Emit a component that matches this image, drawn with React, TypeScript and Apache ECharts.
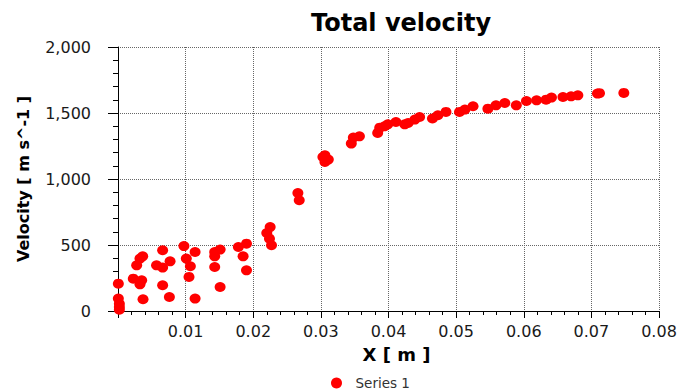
import React, { useEffect, useRef } from "react";
import * as echarts from "echarts";

const xValues: number[] = [
  0.00005, 0.00005, 0.0002, 0.0002, 0.0002,
  0.00226, 0.00276, 0.00325, 0.00365, 0.0035, 0.00325, 0.0037,
  0.0057, 0.0066, 0.0066, 0.0077, 0.0066, 0.0076,
  0.00975, 0.0114, 0.0101, 0.0107, 0.0105, 0.0114,
  0.0143, 0.0151, 0.0143, 0.0143, 0.0151,
  0.0178, 0.019, 0.0185, 0.019,
  0.0225, 0.022, 0.0224, 0.0227,
  0.0266, 0.0268,
  0.0303, 0.0306, 0.0311, 0.0306,
  0.0345, 0.0348, 0.0357,
  0.0384, 0.0387, 0.0394, 0.0399,
  0.0411, 0.0424, 0.0429, 0.0439, 0.0446,
  0.0465, 0.0473, 0.0485,
  0.0505, 0.0513, 0.0525,
  0.0547, 0.0559, 0.0572, 0.0589,
  0.0604, 0.0619, 0.0633, 0.0641, 0.0658, 0.067, 0.068,
  0.0709, 0.0712, 0.0748,
];

const velocity: number[] = [
  207, 94, 55, 30, 10,
  245, 346, 397, 414, 233, 202, 89,
  346, 329, 460, 376, 195, 106,
  492, 447, 397, 339, 258, 94,
  447, 465, 414, 333, 182,
  485, 510, 414, 308,
  636, 591, 548, 498,
  894, 839,
  1167, 1180, 1147, 1129,
  1268, 1314, 1323,
  1349, 1389, 1399, 1414,
  1432, 1414, 1424, 1450, 1470,
  1458, 1483, 1508,
  1508, 1526, 1551,
  1533, 1558, 1576, 1558,
  1591, 1596, 1601, 1617, 1621, 1626, 1634,
  1647, 1650, 1652,
];

const seriesName = "Series 1";
const chartTitle = "Total velocity";
const xAxisName = "X [ m ]";
const yAxisName = "Velocity [ m s^-1 ]";

const FONT = "DejaVu Sans";

export default function App() {
  const ref = useRef<HTMLDivElement>(null);

  useEffect(() => {
    if (!ref.current) return;
    const chart = echarts.init(ref.current, undefined, { renderer: "svg" });
    const data = xValues.map((x, i) => [x, velocity[i]]);
    chart.setOption({
      animation: false,
      backgroundColor: "#ffffff",
      title: {
        text: chartTitle,
        left: 306,
        top: 6,
        textStyle: {
          fontFamily: FONT,
          fontSize: 24,
          fontWeight: "bold",
          color: "#000000",
        },
      },
      legend: {
        data: [seriesName],
        left: 331,
        top: 376,
        padding: 0,
        icon: "circle",
        itemWidth: 28,
        itemHeight: 11,
        itemGap: 8,
        textStyle: { fontFamily: FONT, fontSize: 13.5, color: "#333333" },
      },
      grid: { left: 118, right: 23, top: 47, bottom: 79, containLabel: false },
      xAxis: {
        type: "value",
        min: 0,
        max: 0.08,
        interval: 0.01,
        offset: 7,
        name: xAxisName,
        nameLocation: "middle",
        nameGap: 27,
        nameTextStyle: {
          fontFamily: FONT,
          fontSize: 18,
          fontWeight: "bold",
          color: "#000000",
          padding: [0, 0, 0, 16],
        },
        axisLine: { show: true, lineStyle: { color: "#000000", width: 1 } },
        axisTick: { show: true, inside: false, length: 7, lineStyle: { color: "#000000" } },
        minorTick: { show: true, splitNumber: 5, length: 4, lineStyle: { color: "#000000" } },
        splitLine: { show: true, lineStyle: { color: "#666666", type: "dotted", width: 1 } },
        axisLabel: {
          fontFamily: FONT,
          fontSize: 16,
          color: "#1a1a1a",
          margin: 5,
          formatter: (v: number) => (v === 0 ? "" : v.toFixed(2)),
        },
      },
      yAxis: {
        type: "value",
        min: 0,
        max: 2000,
        interval: 500,
        offset: 8,
        name: yAxisName,
        nameLocation: "middle",
        nameRotate: 90,
        nameGap: 79,
        nameTextStyle: {
          fontFamily: FONT,
          fontSize: 16,
          fontWeight: "bold",
          color: "#000000",
        },
        axisLine: { show: true, lineStyle: { color: "#000000", width: 1 } },
        axisTick: { show: true, inside: false, length: 10, lineStyle: { color: "#000000" } },
        minorTick: { show: true, splitNumber: 5, length: 5, lineStyle: { color: "#000000" } },
        splitLine: { show: true, lineStyle: { color: "#666666", type: "dotted", width: 1 } },
        axisLabel: {
          fontFamily: FONT,
          fontSize: 16,
          color: "#1a1a1a",
          margin: 19,
          formatter: (v: number) => v.toLocaleString("en-US"),
        },
      },
      series: [
        {
          name: seriesName,
          type: "scatter",
          data,
          symbol: "circle",
          symbolSize: [11, 10],
          itemStyle: { color: "#ff0000", opacity: 1 },
        },
      ],
    });
    return () => chart.dispose();
  }, []);

  return (
    <div
      ref={ref}
      style={{ position: "fixed", left: 0, top: 0, width: 682, height: 390 }}
    />
  );
}
